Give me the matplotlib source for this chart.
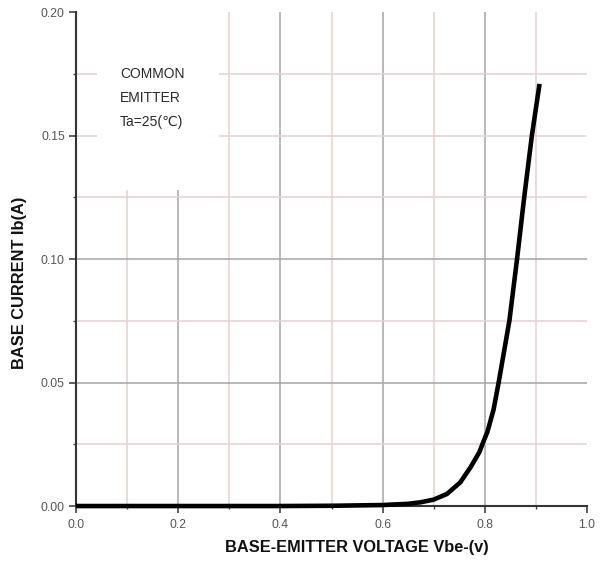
import numpy as np
import matplotlib.pyplot as plt

# curve
vbe = [0.0, 0.4, 0.5, 0.6, 0.65, 0.674, 0.70, 0.726, 0.752, 0.772, 0.789, 0.798,
       0.805, 0.817, 0.827, 0.848, 0.863, 0.877, 0.892, 0.907]
ib = [0.0, 0.0, 0.0001, 0.0004, 0.0009, 0.0015, 0.0026, 0.0049, 0.0096, 0.0157, 0.0217, 0.0265,
      0.0300, 0.039, 0.050, 0.075, 0.100, 0.125, 0.150, 0.1709]

x_major = [0.0, 0.2, 0.4, 0.6, 0.8, 1.0]
x_minor = [0.1, 0.3, 0.5, 0.7, 0.9]
y_major = [0.00, 0.05, 0.10, 0.15, 0.20]
y_minor = [0.025, 0.075, 0.125, 0.175]

note = ["COMMON", "EMITTER", "Ta=25(\u2103)"]

plt.rcParams['font.family'] = ['Liberation Sans', 'DejaVu Sans']

fig = plt.figure(figsize=(6.02, 5.62), dpi=100)
ax = fig.add_axes([0.1262, 0.0996, 0.849, 0.879])

grid_dark = '#ababab'
grid_light = '#e6d3d6'

# vertical grid, the two left lines stop below the note
for xv in [0.1, 0.2, 0.3, 0.4, 0.5, 0.6, 0.7, 0.8, 0.9]:
    top = 0.128 if xv < 0.25 else 0.2
    col = grid_dark if round(xv * 10) % 2 == 0 else grid_light
    ax.vlines(xv, 0, top, color=col, lw=1.2, zorder=1)

# horizontal grid, the upper two are broken by the note
for yv in [0.025, 0.05, 0.075, 0.1, 0.125, 0.15, 0.175]:
    col = grid_dark if yv in (0.05, 0.1) else grid_light
    if yv > 0.14:
        ax.hlines(yv, 0, 0.041, color=col, lw=1.2, zorder=1)
        ax.hlines(yv, 0.28, 1.0, color=col, lw=1.2, zorder=1)
    else:
        ax.hlines(yv, 0, 1.0, color=col, lw=1.2, zorder=1)

ax.plot(vbe, ib, color='black', lw=3.3, solid_capstyle='butt', solid_joinstyle='round',
        clip_on=False, zorder=3)

for i, line in enumerate(note):
    ax.text(0.086, 0.1750 - i * 0.0097, line, fontsize=10, color='#2a2a2a',
            va='center', ha='left', family=['Liberation Sans', 'DejaVu Sans'])

ax.set_xlim(0, 1.0)
ax.set_ylim(0, 0.20)
ax.set_xticks(x_major)
ax.set_xticks(x_minor, minor=True)
ax.set_yticks(y_major)
ax.set_yticks(y_minor, minor=True)
ax.set_xticklabels(['%.1f' % v for v in x_major])
ax.set_yticklabels(['%.2f' % v for v in y_major])

ax.tick_params(which='major', direction='out', length=5, width=1.2, color='#444444',
               labelsize=8.7, labelcolor='#555555')
ax.tick_params(which='minor', direction='out', length=2.5, width=1.0, color='#444444')
ax.tick_params(axis='x', which='major', pad=4)
ax.tick_params(axis='y', which='major', pad=3)

for s in ['top', 'right']:
    ax.spines[s].set_visible(False)
for s in ['left', 'bottom']:
    ax.spines[s].set_color('#333333')
    ax.spines[s].set_linewidth(1.5)

ax.set_xlabel('BASE-EMITTER VOLTAGE Vbe-(v)', fontsize=11.8, fontweight='bold', color='#111111')
ax.set_ylabel('BASE CURRENT Ib(A)', fontsize=11.8, fontweight='bold', color='#111111')
ax.xaxis.set_label_coords(0.55, -0.069)
ax.yaxis.set_label_coords(-0.096, 0.452)

fig.savefig('out.png', dpi=100)
